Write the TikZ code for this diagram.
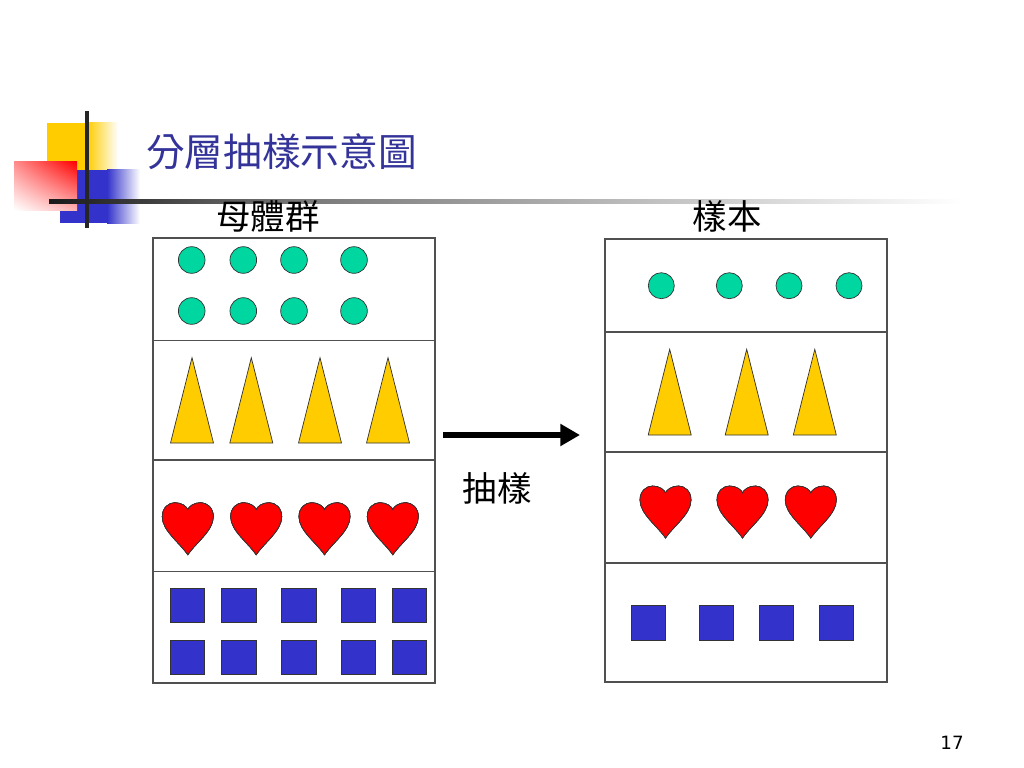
\documentclass[tikz,border=0pt]{standalone}
\usepackage{fontspec}
\newfontfamily\cjk{Noto Sans CJK TC}
\newfontfamily\numfont{DejaVu Sans}
\usepackage{tikz}
\usetikzlibrary{arrows.meta,shadings}
\definecolor{dotgreen}{RGB}{0,214,160}
\definecolor{conegold}{RGB}{255,204,0}
\definecolor{heartred}{RGB}{255,0,0}
\definecolor{tileblue}{RGB}{51,51,204}
\definecolor{titleblue}{RGB}{51,51,153}
\definecolor{framegray}{RGB}{80,80,80}
\tikzset{
  frame/.style={draw=framegray, line width=0.8pt},
  dotfill/.style={draw=black!80, fill=dotgreen, line width=0.5pt},
  conefill/.style={draw=black!80, fill=conegold, line width=0.5pt},
  heartfill/.style={draw=black!80, fill=heartred, line width=0.5pt},
  tilefill/.style={draw=black!80, fill=tileblue, line width=0.5pt},
  titletext/.style={inner sep=0pt, text=titleblue, font=\cjk\fontsize{27.5}{30}\selectfont},
  labeltext/.style={inner sep=0pt, font=\cjk\fontsize{24.5}{27}\selectfont},
  pagenum/.style={inner sep=0pt, font=\numfont\fontsize{13}{15}\selectfont},
  samplearrow/.style={line width=4.2pt, -{Triangle[length=14pt,width=15pt]}}
}
\def\cone(#1,#2,#3){\draw[conefill] (#1-21.5,#3) -- (#1,#2) -- (#1+21.5,#3) -- cycle;}
\def\heart(#1,#2){\draw[heartfill,shift={(#1,#2)}] (0,52) .. controls (-8,40) and (-25.5,28) .. (-25.5,14) .. controls (-25.5,5) and (-19,0) .. (-13,0) .. controls (-6,0) and (-1,4) .. (0,7) .. controls (1,4) and (6,0) .. (13,0) .. controls (19,0) and (25.5,5) .. (25.5,14) .. controls (25.5,28) and (8,40) .. (0,52) -- cycle;}

\begin{document}
\begin{tikzpicture}[x=0.025cm, y=-0.025cm]
			%%%%% START %%%%%
			\useasboundingbox[fill=white] (0,0) rectangle (1024,768);
			
			% corner decoration
			\fill[conegold] (47,122.7) rectangle (87,170);
			\shade[left color=conegold, right color=white] (87,122.7) rectangle (118,170);
			\fill[tileblue] (60,170) rectangle (107,223);
			\shade[left color=tileblue, right color=white] (107,170) rectangle (140,223);
			\shade[upper left=heartred!45, upper right=heartred, lower left=white, lower right=heartred!30] (14,161.7) rectangle (77,210);
			\shade[left color=black!90, right color=black!53] (49,199) rectangle (300,203.7);
			\shade[left color=black!53, right color=white] (300,199) rectangle (960,203.7);
			\fill[black!85] (85.3,111) rectangle (89.3,228);
			
			\node[titletext, anchor=west] (title) at (146,152) {分層抽樣示意圖};
			\node[labeltext] (poplabel) at (268,216) {母體群};
			\node[labeltext] (smplabel) at (727,216) {樣本};
			
			% population
			\draw[frame] (153,238) rectangle (435,683);
			\draw[frame] (153,340.5) -- (435,340.5);
			\draw[frame] (153,460) -- (435,460);
			\draw[frame] (153,571.5) -- (435,571.5);
			
			\foreach \cx in {191.7,243.3,294,354}
				\foreach \cy in {260,311}
					\draw[dotfill] (\cx,\cy) circle[radius=0.333cm];
			\foreach \cx in {192,251.3,320,388}
				\cone(\cx,357.7,443)
			\foreach \cx in {187.8,256.2,324.5,392.8}
				\heart(\cx,502.7)
			\foreach \sx in {170,221.7,281.7,341,392.3}
				\foreach \sy in {588.3,640}
					\draw[tilefill] (\sx,\sy) rectangle ++(34.5,34.5);
			
			% sample
			\draw[frame] (605,239) rectangle (887,682);
			\draw[frame] (605,332) -- (887,332);
			\draw[frame] (605,452) -- (887,452);
			\draw[frame] (605,563) -- (887,563);
			
			\foreach \cx in {661.3,729.3,789,849}
				\draw[dotfill] (\cx,285.7) circle[radius=0.325cm];
			\foreach \cx in {669.7,746.7,814.8}
				\cone(\cx,349.3,435)
			\foreach \cx in {665.5,742.5,810.8}
				\heart(\cx,486)
			\foreach \sx in {631,699.3,759.3,819}
				\draw[tilefill] (\sx,605.7) rectangle ++(34.5,34.5);
			
			% sampling arrow
			\coordinate (drawS) at (443,435);
			\coordinate (drawE) at (580,435);
			\draw[samplearrow] (drawS) -- (drawE);
			\node[labeltext] (drawlabel) at (497,488) {抽樣};
			
			\node[pagenum] (pageno) at (952,743) {17};
			%%%%% END %%%%%
\end{tikzpicture}
\end{document}
